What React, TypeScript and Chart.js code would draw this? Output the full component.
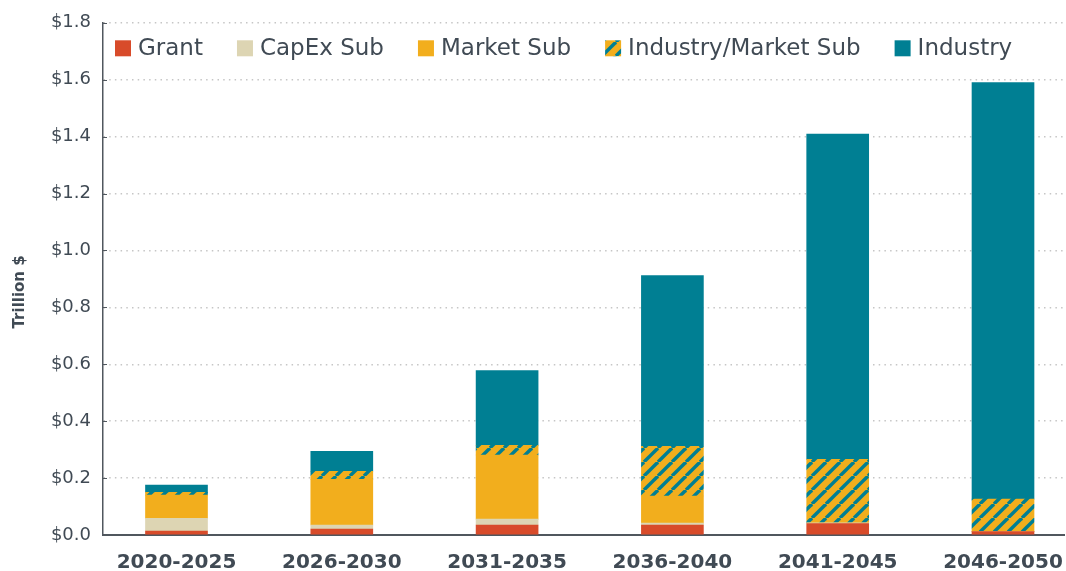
import { useEffect, useRef } from "react";
import { Chart, registerables } from "chart.js";

Chart.register(...registerables);

const categories = ["2020-2025", "2026-2030", "2031-2035", "2036-2040", "2041-2045", "2046-2050"];
const grant = [0.014, 0.021, 0.035, 0.035, 0.040, 0.012];
const capexSub = [0.045, 0.014, 0.021, 0.007, 0.003, 0];
const marketSub = [0.081, 0.161, 0.225, 0.095, 0, 0];
const industryMarketSub = [0.010, 0.028, 0.034, 0.175, 0.223, 0.114];
const industry = [0.025, 0.070, 0.263, 0.600, 1.143, 1.464];
const yTicks = [0, 0.2, 0.4, 0.6, 0.8, 1.0, 1.2, 1.4, 1.6, 1.8];
const yTitle = "Trillion $";

const X_MIN = -0.4446;
const X_MAX = 5.369;

const RED = "#d84b2a";
const BEIGE = "#ddd5b3";
const ORANGE = "#f2ae1d";
const TEAL = "#007f93";
const TEXT = "#404a54";
const AXIS = "#50575e";
const FONT = "'DejaVu Sans', sans-serif";

function makeHatch(ctx: CanvasRenderingContext2D): CanvasPattern | string {
  const p = 14;
  const c = document.createElement("canvas");
  c.width = p;
  c.height = p;
  const g = c.getContext("2d");
  if (!g) return ORANGE;
  g.fillStyle = ORANGE;
  g.fillRect(0, 0, p, p);
  g.strokeStyle = TEAL;
  g.lineWidth = 3.4;
  for (const off of [-p, 0, p]) {
    g.beginPath();
    g.moveTo(off, p);
    g.lineTo(off + p, 0);
    g.stroke();
  }
  return ctx.createPattern(c, "repeat") || ORANGE;
}

const customLegend = {
  id: "customLegend",
  afterDraw(chart: any) {
    const ctx = chart.ctx as CanvasRenderingContext2D;
    const area = chart.chartArea;
    const fontSize = 23;
    const box = 16;
    const textGap = 7;
    const itemGap = 34;
    const cy = area.top + 25.5;
    ctx.save();
    ctx.font = `${fontSize}px ${FONT}`;
    ctx.textBaseline = "middle";
    ctx.textAlign = "left";
    let x = area.left + 12;
    chart.data.datasets.forEach((ds: any) => {
      ctx.fillStyle = ds.backgroundColor;
      ctx.fillRect(x, cy - box / 2, box, box);
      const tx = x + box + textGap;
      ctx.fillStyle = TEXT;
      ctx.fillText(ds.label, tx, cy + 1);
      x = tx + ctx.measureText(ds.label).width + itemGap;
    });
    ctx.restore();
  },
};

const axisExtras = {
  id: "axisExtras",
  afterDraw(chart: any) {
    const ctx = chart.ctx as CanvasRenderingContext2D;
    const y = chart.scales.y;
    const area = chart.chartArea;
    const left = area.left;
    ctx.save();
    ctx.strokeStyle = AXIS;
    ctx.lineWidth = 1;
    y.ticks.forEach((t: any) => {
      const py = Math.round(y.getPixelForValue(t.value)) + 0.5;
      ctx.beginPath();
      ctx.moveTo(left, py);
      ctx.lineTo(left + 4, py);
      ctx.stroke();
    });
    ctx.translate(20, (area.top + area.bottom) / 2 + 13);
    ctx.rotate(-Math.PI / 2);
    ctx.font = `bold 15px ${FONT}`;
    ctx.fillStyle = TEXT;
    ctx.textAlign = "center";
    ctx.textBaseline = "middle";
    ctx.fillText(yTitle, 0, 0);
    ctx.restore();
  },
};

export default function App() {
  const ref = useRef<HTMLCanvasElement | null>(null);

  useEffect(() => {
    const canvas = ref.current;
    if (!canvas) return;
    const ctx = canvas.getContext("2d");
    if (!ctx) return;
    const hatch = makeHatch(ctx);
    const toPts = (arr: number[]) => arr.map((v, i) => ({ x: i, y: v }));

    const chart = new Chart(canvas, {
      type: "bar",
      data: {
        datasets: [
          { label: "Grant", data: toPts(grant), backgroundColor: RED },
          { label: "CapEx Sub", data: toPts(capexSub), backgroundColor: BEIGE },
          { label: "Market Sub", data: toPts(marketSub), backgroundColor: ORANGE },
          { label: "Industry/Market Sub", data: toPts(industryMarketSub), backgroundColor: hatch as any },
          { label: "Industry", data: toPts(industry), backgroundColor: TEAL },
        ],
      },
      options: {
        animation: false,
        responsive: true,
        maintainAspectRatio: false,
        layout: { padding: { top: 20, right: 2, left: 0, bottom: 0 } },
        datasets: { bar: { barThickness: 62, borderWidth: 0 } } as any,
        plugins: {
          legend: { display: false },
          tooltip: { enabled: false },
        },
        scales: {
          x: {
            type: "linear",
            stacked: true,
            offset: false,
            bounds: "data",
            min: X_MIN,
            max: X_MAX,
            grid: { display: false, drawTicks: false, offset: false },
            border: { display: true, color: AXIS, width: 2 },
            afterBuildTicks: (s: any) => {
              s.ticks = categories.map((_, i) => ({ value: i }));
              s.min = X_MIN;
              s.max = X_MAX;
            },
            afterFit: (s: any) => {
              s.height = 36;
              s.paddingLeft = 0;
              s.paddingRight = 0;
            },
            ticks: {
              padding: 16,
              color: TEXT,
              font: { family: FONT, size: 20, weight: "bold" },
              callback: (v: any) => categories[Math.round(Number(v))] ?? "",
              maxRotation: 0,
              autoSkip: false,
            },
          },
          y: {
            type: "linear",
            stacked: true,
            min: 0,
            max: 1.8,
            grid: { display: true, color: "#c6c6c6", lineWidth: 1.5, drawTicks: false },
            border: { display: true, color: AXIS, width: 1.5, dash: [1.5, 4.2] },
            afterBuildTicks: (s: any) => {
              s.ticks = yTicks.map((v) => ({ value: v }));
            },
            afterFit: (s: any) => {
              s.width = 103;
            },
            ticks: {
              padding: 12,
              color: TEXT,
              font: { family: FONT, size: 18 },
              callback: (v: any) => "$" + Number(v).toFixed(1),
            },
            title: { display: false },
          },
        },
      },
      plugins: [customLegend, axisExtras],
    });
    return () => chart.destroy();
  }, []);

  return (
    <div style={{ position: "absolute", left: 0, top: 0, width: 1066, height: 571, background: "#fff" }}>
      <canvas ref={ref} />
    </div>
  );
}
